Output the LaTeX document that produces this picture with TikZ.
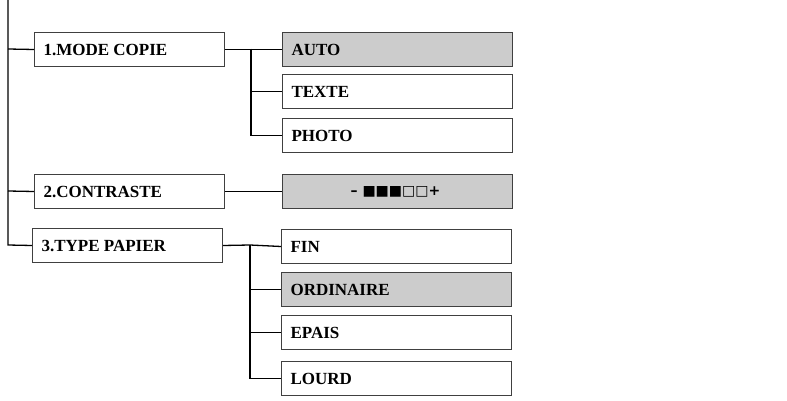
\documentclass[tikz,border=0pt]{standalone}
\usepackage{fontspec}
\setmainfont{Liberation Serif}
\newfontfamily\symfont{DejaVu Sans}
\begin{document}
\begin{tikzpicture}[x=1pt,y=-1pt,
  box/.style={draw=black!75,line width=1pt,minimum height=34pt,inner sep=0pt,anchor=north west,text depth=0pt},
  lab/.style={font=\fontsize{17}{17}\selectfont\bfseries},
  conn/.style={line width=1.3pt}]
\useasboundingbox (0,0) rectangle (787,401);
\tikzset{mk/.style={box,minimum width=#1pt}}
\newcommand\bx[6]{\node[box,minimum width=#4pt,fill=#5] (#1) at (#2,#3) {};
  \node[lab,anchor=west] at ([xshift=6pt]#1.west) {#6};}
\bx{m1}{34}{32}{190}{white}{1.MODE COPIE}
\bx{m2}{34}{174}{190}{white}{2.CONTRASTE}
\bx{m3}{32}{228}{190}{white}{3.TYPE PAPIER}
\bx{a}{282}{32}{230}{black!20}{AUTO}
\bx{t}{282}{74}{230}{white}{TEXTE}
\bx{p}{282}{118}{230}{white}{PHOTO}
\node[box,minimum width=230pt,fill=black!20] (c) at (282,174) {};
\node[font=\symfont\bfseries\fontsize{14}{14}\selectfont] at ([xshift=-2pt]c.center) {– ■■■□□+};
\bx{f}{281}{229}{230}{white}{FIN}
\bx{o}{281}{272}{230}{black!20}{ORDINAIRE}
\bx{e}{281}{315}{230}{white}{EPAIS}
\bx{l}{281}{361}{230}{white}{LOURD}
\coordinate (top) at (8,0);
\coordinate (bot) at (8,245);
\draw[conn] (top) -- (bot) -- (m3.west);
\draw[conn] (8,49) -- (m1.west);
\draw[conn] (8,191) -- (m2.west);
\draw[conn] (m1.east) -- (a.west);
\draw[conn] (251,49) |- (t.west);
\draw[conn] (251,49) |- (p.west);
\draw[conn] (m2.east) -- (c.west);
\draw[conn] (m3.east) -- (250,245) -- (f.west);
\draw[conn] (250,245) |- (o.west);
\draw[conn] (250,245) |- (e.west);
\draw[conn] (250,245) |- (l.west);
\end{tikzpicture}
\end{document}
